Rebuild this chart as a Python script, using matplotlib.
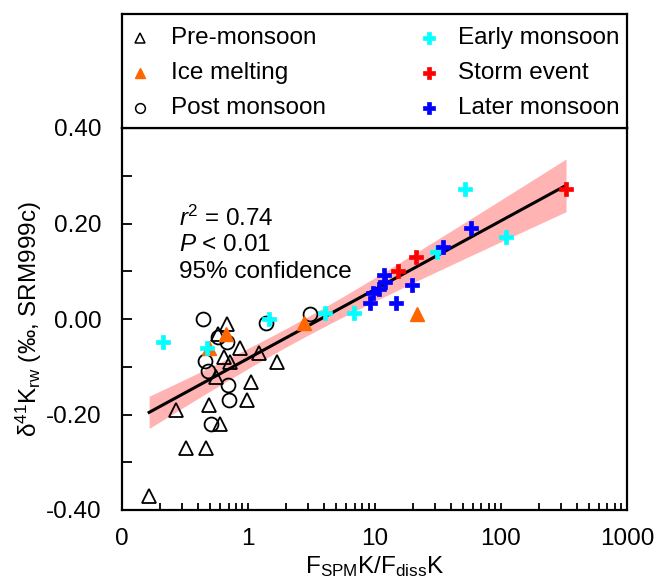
import numpy as np
import matplotlib
matplotlib.use("Agg")
import matplotlib.pyplot as plt
from matplotlib.ticker import FixedLocator, FixedFormatter, NullFormatter

plt.rcParams['font.family'] = ['Liberation Sans', 'DejaVu Sans']
plt.rcParams['mathtext.fontset'] = 'custom'
plt.rcParams['mathtext.rm'] = 'Liberation Sans'
plt.rcParams['mathtext.it'] = 'Liberation Sans:italic'

# ---- data (x = F_SPM K / F_diss K, y = d41K_rw) ----
pre_x = [0.164, 0.268, 0.321, 0.460, 0.491, 0.597, 0.556, 0.973, 1.05, 1.68,
         1.22, 0.861, 0.646, 0.717, 0.579, 0.675]
pre_y = [-0.371, -0.191, -0.271, -0.271, -0.180, -0.220, -0.121, -0.170, -0.131, -0.091,
         -0.071, -0.060, -0.080, -0.091, -0.032, -0.011]

ice_x = [0.489, 0.667, 2.78, 21.8]
ice_y = [-0.060, -0.032, -0.009, 0.010]

post_x = [0.441, 1.38, 3.08, 0.579, 0.683, 0.454, 0.483, 0.695, 0.704, 0.507]
post_y = [0.000, -0.009, 0.0105, -0.037, -0.049, -0.089, -0.109, -0.138, -0.170, -0.220]

early_x = [0.210, 0.474, 1.45, 4.02, 6.90, 52.4, 111, 31.1]
early_y = [-0.049, -0.060, 0.000, 0.012, 0.012, 0.272, 0.171, 0.141]

storm_x = [329, 21.3, 15.3]
storm_y = [0.272, 0.130, 0.100]

later_x = [58.5, 34.9, 19.7, 14.8, 11.9, 12.1, 10.9, 9.78, 9.20]
later_y = [0.191, 0.151, 0.071, 0.033, 0.092, 0.078, 0.062, 0.054, 0.033]

xtick_vals = [0.1, 1, 10, 100, 1000]
xtick_labels = ['0', '1', '10', '100', '1000']
ytick_vals = [-0.4, -0.2, 0.0, 0.2, 0.4]
ytick_labels = ['-0.40', '-0.20', '0.00', '0.20', '0.40']
stats_lines = [r'$\it{r}$$^2$ = 0.74', r'$\it{P}$ < 0.01', '95% confidence']

FS = 17.5
ORANGE = '#FF6600'
CYAN = '#00FFFF'
RED = '#FF0000'
BLUE = '#0000FF'

fig = plt.figure(figsize=(6.57, 5.81), dpi=100)
W, H = 657, 581
ax = fig.add_axes([122 / W, (H - 510) / H, 505 / W, 382 / H])

# regression in log10(x)
allx = np.array(pre_x + ice_x + post_x + early_x + storm_x + later_x)
ally = np.array(pre_y + ice_y + post_y + early_y + storm_y + later_y)
lx = np.log10(allx)
n = len(lx)
b, a = np.polyfit(lx, ally, 1)
res = ally - (a + b * lx)
s = np.sqrt(np.sum(res ** 2) / (n - 2))
sxx = np.sum((lx - lx.mean()) ** 2)
t = 2.01
gx = np.linspace(lx.min(), lx.max(), 200)
gy = a + b * gx
half = t * s * np.sqrt(1.0 / n + (gx - lx.mean()) ** 2 / sxx)
ax.fill_between(10 ** gx, gy - half, gy + half, color='#FFB3B3', lw=0, zorder=1)
ax.plot(10 ** gx, gy, color='black', lw=2.2, zorder=2)

mk = dict(linestyle='none', zorder=3)
ax.plot(pre_x, pre_y, marker='^', ms=9.5, mfc='none', mec='black', mew=1.3, **mk)
ax.plot(post_x, post_y, marker='o', ms=10, mfc='none', mec='black', mew=1.3, **mk)
ax.plot(ice_x, ice_y, marker='^', ms=9.5, mfc=ORANGE, mec=ORANGE, mew=1, **mk)
ax.plot(early_x, early_y, marker='P', ms=10, mfc=CYAN, mec=CYAN, mew=0.5, **mk)
ax.plot(storm_x, storm_y, marker='P', ms=10, mfc=RED, mec=RED, mew=0.5, **mk)
ax.plot(later_x, later_y, marker='P', ms=10, mfc=BLUE, mec=BLUE, mew=0.5, **mk)

ax.set_xscale('log')
ax.set_xlim(0.1, 1000)
ax.set_ylim(-0.4, 0.4)
ax.xaxis.set_major_locator(FixedLocator(xtick_vals))
ax.xaxis.set_major_formatter(FixedFormatter(xtick_labels))
minors = [m * 10.0 ** e for e in range(-1, 3) for m in range(2, 10)]
ax.xaxis.set_minor_locator(FixedLocator(minors))
ax.xaxis.set_minor_formatter(NullFormatter())
ax.yaxis.set_major_locator(FixedLocator(ytick_vals))
ax.yaxis.set_major_formatter(FixedFormatter(ytick_labels))
ax.yaxis.set_minor_locator(FixedLocator([-0.3, -0.1, 0.1, 0.3]))
ax.tick_params(axis='both', which='both', direction='in', width=1.3, labelsize=FS)
ax.tick_params(axis='y', which='both', length=7, pad=15)
ax.tick_params(axis='x', which='both', length=5, pad=13)
ax.tick_params(top=False, right=False, which='both')
for sp in ax.spines.values():
    sp.set_linewidth(1.6)

ax.set_xlabel(r'F$_{\mathrm{SPM}}$K/F$_{\mathrm{diss}}$K', fontsize=FS, labelpad=3)
ax.set_ylabel(r'$\mathrm{\delta}^{41}$K$_{\mathrm{rw}}$ (‰, SRM999c)', fontsize=FS, labelpad=1)

for i, line in enumerate(stats_lines):
    ax.text(0.113, 0.764 - i * 0.0707, line, transform=ax.transAxes, fontsize=FS,
            ha='left', va='center')

# legend box above the axes
lax = fig.add_axes([122 / W, (H - 128) / H, 505 / W, 114 / H])
lax.set_xlim(0, 1)
lax.set_ylim(0, 1)
lax.set_xticks([])
lax.set_yticks([])
for sp in lax.spines.values():
    sp.set_linewidth(1.6)
rows = [0.79, 0.483, 0.176]
col_m = [0.036, 0.608]
col_t = [0.097, 0.665]
entries = [
    (0, 0, dict(marker='^', ms=7, mfc='none', mec='black', mew=1.1), 'Pre-monsoon'),
    (0, 1, dict(marker='^', ms=7, mfc=ORANGE, mec=ORANGE, mew=1), 'Ice melting'),
    (0, 2, dict(marker='o', ms=7, mfc='none', mec='black', mew=1.1), 'Post monsoon'),
    (1, 0, dict(marker='P', ms=8, mfc=CYAN, mec=CYAN, mew=0.5), 'Early monsoon'),
    (1, 1, dict(marker='P', ms=8, mfc=RED, mec=RED, mew=0.5), 'Storm event'),
    (1, 2, dict(marker='P', ms=8, mfc=BLUE, mec=BLUE, mew=0.5), 'Later monsoon'),
]
for c, r, style, label in entries:
    lax.plot([col_m[c]], [rows[r]], linestyle='none', **style)
    lax.text(col_t[c], rows[r], label, fontsize=FS, ha='left', va='center')

fig.savefig('out.png', dpi=100)
